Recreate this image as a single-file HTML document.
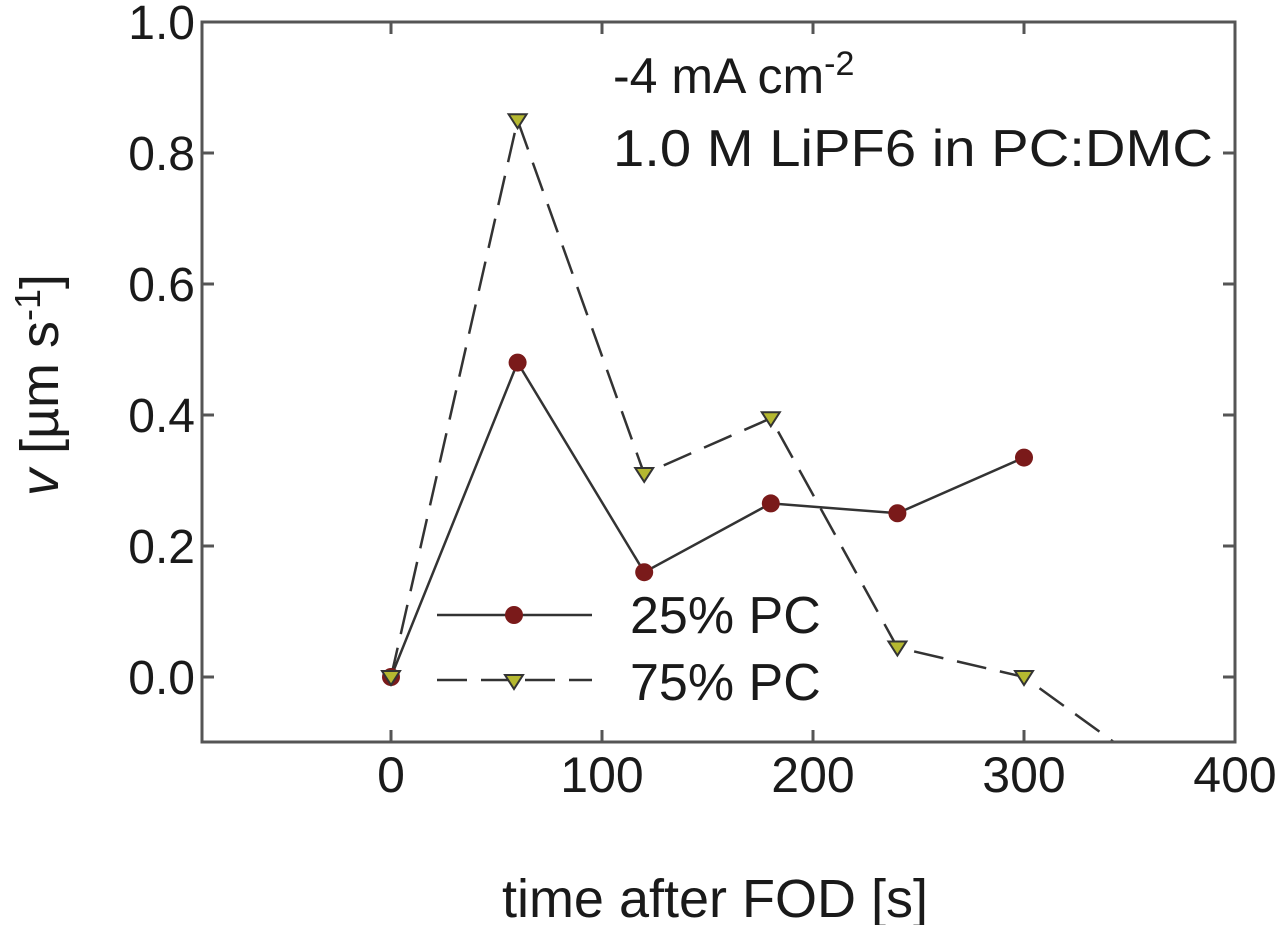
<!DOCTYPE html>
<html><head><meta charset="utf-8"><style>
html,body{margin:0;padding:0;background:#fff;}
svg text{font-family:"Liberation Sans",sans-serif;fill:#1a1a1a;}
</style></head><body>
<svg id="chart" width="1280" height="925" viewBox="0 0 1280 925" xmlns="http://www.w3.org/2000/svg">
<defs><clipPath id="plotclip"><rect x="202" y="22" width="1033" height="720"/></clipPath></defs>
<g id="series" clip-path="url(#plotclip)"></g>
<rect x="202" y="22" width="1033" height="720" fill="none" stroke="#555" stroke-width="3"/>
<g id="ticks"></g>
<text x="613" y="93" font-size="50">-4 mA cm<tspan dy="-18" font-size="34">-2</tspan></text>
<text x="613" y="166" font-size="52" textLength="600" lengthAdjust="spacingAndGlyphs">1.0 M LiPF6 in PC:DMC</text>
<text transform="translate(58,385) rotate(-90)" text-anchor="middle" font-size="54"><tspan font-style="italic">v</tspan> [µm s<tspan dy="-18" font-size="36">-1</tspan><tspan dy="18">]</tspan></text>
<text x="715" y="917" text-anchor="middle" font-size="54">time after FOD [s]</text>
<g id="legend">
<line x1="437" y1="615" x2="592" y2="615" stroke="#333" stroke-width="2.5"/>
<circle cx="514" cy="615" r="9" fill="#7a1a1a"/>
<text x="630" y="633" font-size="52">25% PC</text>
<line x1="437" y1="680" x2="592" y2="680" stroke="#333" stroke-width="2.5" stroke-dasharray="30,14"/>
<polygon points="505,675 523,675 514,689" fill="#b5b830" stroke="#333" stroke-width="2"/>
<text x="630" y="700" font-size="52">75% PC</text>
</g>
</svg>
<script>
const xTicks=[0,100,200,300,400];
const yTicks=[0.0,0.2,0.4,0.6,0.8,1.0];
const times=[0,60,120,180,240,300];
const pc25=[0,0.48,0.16,0.265,0.25,0.335];
const times75=[0,60,120,180,240,300,360];
const pc75=[0,0.85,0.31,0.395,0.045,0.0,-0.14];
const NS='http://www.w3.org/2000/svg';
const X=v=>391+v*2.11, Y=v=>677-v*655;
const ticks=document.getElementById('ticks'), ser=document.getElementById('series');
function mk(t,a,p){const e=document.createElementNS(NS,t);for(const k in a)e.setAttribute(k,a[k]);(p||ticks).appendChild(e);return e;}
xTicks.forEach(v=>{
 const l=mk('path',{d:`M${X(v)},742v-12M${X(v)},22v12`,stroke:'#555','stroke-width':3});
 
 
 const t=mk('text',{x:X(v),y:792,'text-anchor':'middle','font-size':50});t.textContent=v;
 
 
});
yTicks.forEach(v=>{
 const l=mk('path',{d:`M202,${Y(v)}h12M1235,${Y(v)}h-12`,stroke:'#555','stroke-width':3});
 
 
 const t=mk('text',{x:195,y:Y(v)+17,'text-anchor':'end','font-size':48});t.textContent=v.toFixed(1);
 
 
});
const l75=mk('polyline',{points:times75.map((t,i)=>X(t)+','+Y(pc75[i])).join(' '),fill:'none',stroke:'#333','stroke-width':2.5,'stroke-dasharray':'30,14'},ser);


const l25=mk('polyline',{points:times.map((t,i)=>X(t)+','+Y(pc25[i])).join(' '),fill:'none',stroke:'#333','stroke-width':2.5},ser);


times.forEach((t,i)=>{
 const c=mk('circle',{cx:X(t),cy:Y(pc25[i]),r:9,fill:'#7a1a1a'},ser);
 
 
});
times75.forEach((t,i)=>{
 const x=X(t),y=Y(pc75[i]);
 const p=mk('polygon',{points:`${x-9},${y-6} ${x+9},${y-6} ${x},${y+8}`,fill:'#b5b830',stroke:'#333','stroke-width':2},ser);
 
 
});
</script>
</body></html>
